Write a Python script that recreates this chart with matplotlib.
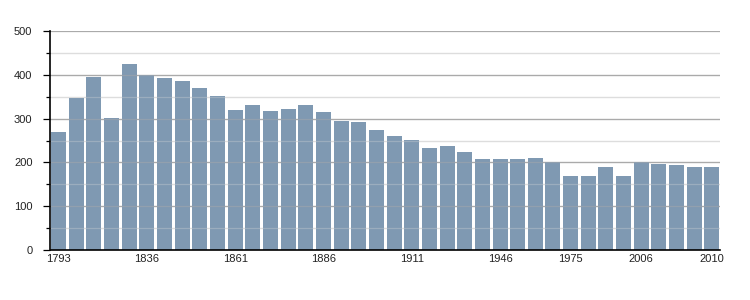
import matplotlib
matplotlib.use("Agg")
import matplotlib.pyplot as plt
from matplotlib.ticker import MultipleLocator

years = ["1793", "1800", "1806", "1821", "1831", "1836", "1841", "1846", "1851", "1856",
         "1861", "1866", "1872", "1876", "1881", "1886", "1891", "1896", "1901", "1906",
         "1911", "1921", "1926", "1931", "1936", "1946", "1954", "1962", "1968", "1975",
         "1982", "1990", "1999", "2006", "2007", "2008", "2009", "2010"]
population = [270, 347, 395, 301, 425, 400, 393, 386, 370, 351,
              320, 331, 317, 322, 331, 315, 294, 292, 274, 260,
              251, 233, 237, 223, 208, 208, 208, 210, 201, 170,
              170, 190, 170, 201, 197, 193, 190, 190]
shown_labels = ["1793", "1836", "1861", "1886", "1911", "1946", "1975", "2006", "2010"]

plt.rcParams['font.family'] = ['Liberation Sans', 'DejaVu Sans']

fig = plt.figure(figsize=(7.5, 3.0), dpi=100)
ax = fig.add_axes([50.5 / 750, 50 / 300, 669.5 / 750, 219 / 300])

x = list(range(len(years)))
ax.bar(x, population, width=0.85, color="#7f99b2", zorder=1)

ax.set_ylim(0, 500)
ax.set_xlim(-0.46, len(years) - 0.54)
ax.yaxis.set_major_locator(MultipleLocator(100))
ax.yaxis.set_minor_locator(MultipleLocator(50))
ax.grid(axis='y', which='major', color='#aaaaaa', linewidth=0.9, zorder=0)
ax.grid(axis='y', which='minor', color='#dddddd', linewidth=0.9, zorder=0)
ax.set_axisbelow(True)
# faint lines of the grid showing through the bars
for v in ax.get_yticks():
    if 0 < v < 500:
        ax.axhline(v, color='#aaaaaa', alpha=0.45, linewidth=0.9, zorder=2)
for v in ax.get_yticks(minor=True):
    if 0 < v < 500 and v % 100:
        ax.axhline(v, color='#dddddd', alpha=0.3, linewidth=0.9, zorder=2)

pos = [years.index(y) for y in shown_labels]
ax.set_xticks(pos)
ax.set_xticklabels(shown_labels)
ax.tick_params(axis='x', length=0, pad=3, labelsize=8)
ax.tick_params(axis='y', which='major', length=5, width=0.9, pad=8, labelsize=8)
ax.tick_params(axis='y', which='minor', length=3, width=0.9)
for lab in ax.get_yticklabels() + ax.get_xticklabels():
    lab.set_color('#222222')

for s in ['top', 'right']:
    ax.spines[s].set_visible(False)
ax.spines['left'].set_linewidth(1.2)
ax.spines['bottom'].set_linewidth(1.2)
ax.spines['left'].set_zorder(3)
ax.spines['bottom'].set_zorder(3)

fig.savefig("out.png", dpi=100)
